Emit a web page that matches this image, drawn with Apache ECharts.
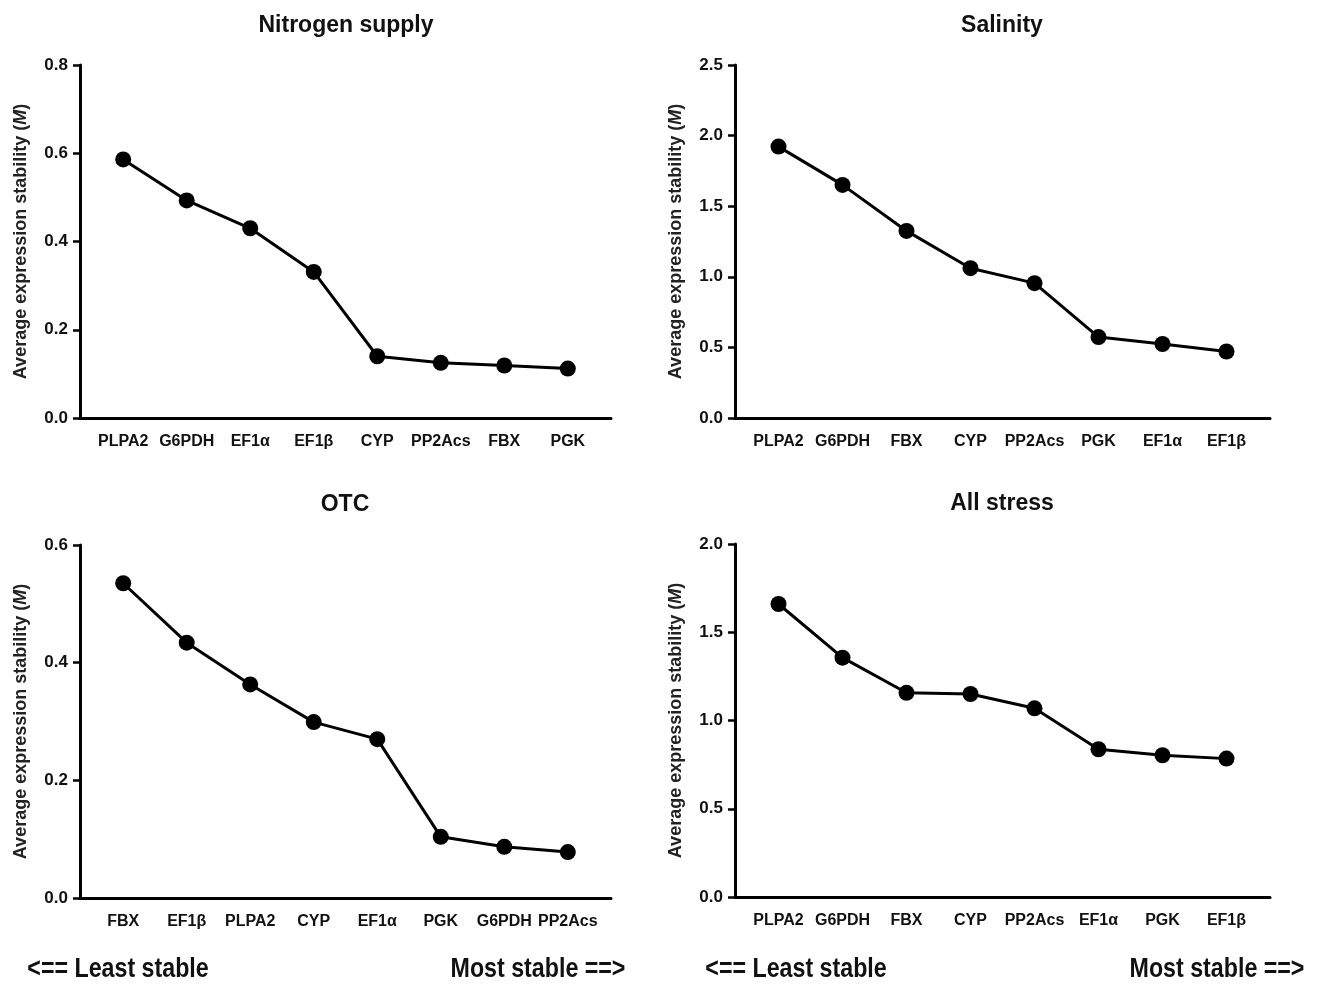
<!DOCTYPE html>
<html>
<head>
<meta charset="utf-8">
<script src="https://cdn.jsdelivr.net/npm/echarts@6/dist/echarts.min.js"></script>
<style>
  html, body { margin: 0; padding: 0; background: #fff; }
  #chart { width: 1320px; height: 984px; }
</style>
</head>
<body>
<div id="chart"></div>
<script>
// panel data
const nitrogenGenes = ['PLPA2', 'G6PDH', 'EF1α', 'EF1β', 'CYP', 'PP2Acs', 'FBX', 'PGK']
const nitrogenM = [0.586, 0.493, 0.430, 0.331, 0.140, 0.125, 0.119, 0.112]

const salinityGenes = ['PLPA2', 'G6PDH', 'FBX', 'CYP', 'PP2Acs', 'PGK', 'EF1α', 'EF1β']
const salinityM = [1.922, 1.651, 1.325, 1.061, 0.955, 0.573, 0.524, 0.471]

const otcGenes = ['FBX', 'EF1β', 'PLPA2', 'CYP', 'EF1α', 'PGK', 'G6PDH', 'PP2Acs']
const otcM = [0.535, 0.434, 0.363, 0.299, 0.270, 0.104, 0.087, 0.078]

const allGenes = ['PLPA2', 'G6PDH', 'FBX', 'CYP', 'PP2Acs', 'EF1α', 'PGK', 'EF1β']
const allM = [1.660, 1.356, 1.157, 1.150, 1.069, 0.837, 0.803, 0.784]

const titles = ['Nitrogen supply', 'Salinity', 'OTC', 'All stress']
const yMax = [0.8, 2.5, 0.6, 2.0]
const yStep = [0.2, 0.5, 0.2, 0.5]

const panels = [
  { genes: nitrogenGenes, vals: nitrogenM },
  { genes: salinityGenes, vals: salinityM },
  { genes: otcGenes, vals: otcM },
  { genes: allGenes, vals: allM }
]

const grids = [
  { left: 80, top: 65, width: 531, height: 353 },
  { left: 735, top: 65, width: 535, height: 353 },
  { left: 80, top: 545, width: 531, height: 353 },
  { left: 735, top: 544, width: 535, height: 353 }
]

const font = 'Liberation Sans, Arial, sans-serif'
const chart = echarts.init(document.getElementById('chart'))

const xAxes = panels.map((p, i) => ({
  type: 'value',
  gridIndex: i,
  min: -0.68,
  max: 7.68,
  splitLine: { show: false },
  axisTick: { show: false },
  axisLine: { lineStyle: { color: '#000', width: 3 } },
  axisLabel: {
    customValues: p.genes.map((g, k) => k),
    formatter: v => p.genes[Math.round(v)],
    color: '#111', fontFamily: font, fontWeight: 'bold', fontSize: 16, margin: 16
  }
}))

const yAxes = panels.map((p, i) => ({
  type: 'value',
  gridIndex: i,
  min: 0,
  max: yMax[i],
  interval: yStep[i],
  splitLine: { show: false },
  axisLine: { show: true, onZero: false, lineStyle: { color: '#000', width: 3 } },
  axisTick: { show: true, length: 7, lineStyle: { color: '#000', width: 2.5 } },
  axisLabel: {
    formatter: v => v.toFixed(1),
    color: '#111', fontFamily: font, fontWeight: 'bold', fontSize: 17, margin: 12
  },
  name: '{a|Average expression stability (}{b|M}{a|)}',
  nameLocation: 'middle',
  nameGap: 50,
  nameTextStyle: {
    rich: {
      a: { fontFamily: font, fontWeight: 'bold', fontSize: 18, color: '#222' },
      b: { fontFamily: font, fontWeight: 'bold', fontStyle: 'italic', fontSize: 18, color: '#222' }
    }
  }
}))

const series = panels.map((p, i) => ({
  type: 'line',
  xAxisIndex: i,
  yAxisIndex: i,
  data: p.vals.map((v, k) => [k, v]),
  symbol: 'circle',
  symbolSize: 16,
  itemStyle: { color: '#000' },
  lineStyle: { color: '#000', width: 3 },
  animation: false
}))

const titleCenters = [[341, 9], [997, 9], [340, 488], [997, 487]]

chart.setOption({
  backgroundColor: '#fff',
  animation: false,
  title: titles.map((t, i) => ({
    text: t,
    left: titleCenters[i][0],
    top: titleCenters[i][1],
    textAlign: 'center',
    textStyle: { fontFamily: font, fontWeight: 'bold', fontSize: 23, color: '#111' }
  })),
  grid: grids,
  xAxis: xAxes,
  yAxis: yAxes,
  series: series,
  graphic: [
    [118, '<== Least stable'], [538, 'Most stable ==>'],
    [796, '<== Least stable'], [1217, 'Most stable ==>']
  ].map(([x, t]) => ({
    type: 'text',
    x: x,
    y: 970,
    scaleX: 0.86,
    style: {
      text: t,
      x: 0, y: 0,
      align: 'center',
      verticalAlign: 'middle',
      font: 'bold 27px "Liberation Sans Narrow", "Arial Narrow", "Liberation Sans", sans-serif',
      fill: '#111'
    }
  }))
})
</script>
</body>
</html>
